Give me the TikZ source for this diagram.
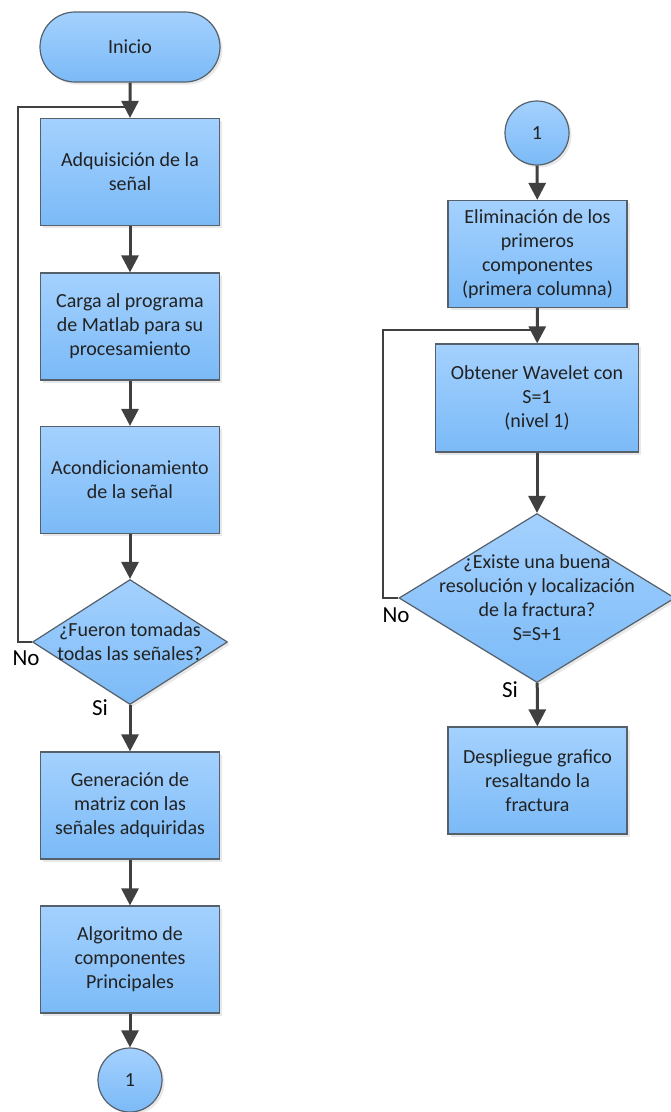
\documentclass[tikz,border=0pt]{standalone}
\usepackage{fontspec}
\setmainfont{Carlito}
\usetikzlibrary{arrows.meta,shapes.geometric,shapes.misc,shadows}
\definecolor{boxtop}{HTML}{A4D1FE}
\definecolor{boxbot}{HTML}{7BBAF7}
\definecolor{edge}{HTML}{55606B}
\definecolor{flow}{HTML}{404040}
\definecolor{txt}{HTML}{222222}
\begin{document}
\begin{tikzpicture}[x=1pt,y=-1pt,
  fillbox/.style={top color=boxtop, bottom color=boxbot, draw=edge, line width=1.2pt,
    drop shadow={shadow xshift=2.5pt, shadow yshift=-2.5pt, opacity=0.18}},
  bodytext/.style={align=center, text=txt, font=\fontsize{20}{24}\selectfont},
  proc/.style={fillbox, bodytext, rectangle, minimum width=179pt, minimum height=107pt, inner sep=0pt},
  term/.style={fillbox, bodytext, rounded rectangle, minimum width=180pt, minimum height=70pt, inner sep=0pt},
  conn/.style={fillbox, bodytext, circle, minimum size=64pt, inner sep=0pt},
  dec/.style={fillbox, diamond, inner sep=0pt},
  flowline/.style={draw=flow, line width=3pt, -{Triangle[length=17pt,width=17pt]}},
  loopline/.style={draw=flow, line width=2pt},
  tag/.style={font=\fontsize{23}{26}\selectfont, text=black}
]
\useasboundingbox (0,0) rectangle (670,1112);

% left column
\node[term] (ini) at (130,47) {Inicio};
\node[proc] (b1) at (130,172) {Adquisición de la\\señal};
\node[proc] (b2) at (130,326.5) {Carga al programa\\de Matlab para su\\procesamiento};
\node[proc] (b3) at (130,480) {Acondicionamiento\\de la señal};
\node[dec, minimum width=195pt, minimum height=125pt] (d1) at (130,642) {};
\node[bodytext] (d1t) at (d1) {¿Fueron tomadas\\todas las señales?};
\node[proc] (b4) at (130,805.5) {Generación de\\matriz con las\\señales adquiridas};
\node[proc] (b5) at (130,959.5) {Algoritmo de\\componentes\\Principales};
\node[conn] (c1) at (130,1080) {1};

\coordinate (la) at (18,107);
\coordinate (ja) at (130,107);

\draw[flowline] (ini) -- (b1);
\draw[flowline] (b1) -- (b2);
\draw[flowline] (b2) -- (b3);
\draw[flowline] (b3) -- (d1);
\draw[flowline] (d1) -- (b4);
\draw[flowline] (b4) -- (b5);
\draw[flowline] (b5) -- (c1);
\draw[loopline] (d1.west) -- (d1.west -| la) -- (la) -- (ja);

\node[tag] (no1) at (26,658) {No};
\node[tag] (si1) at (100,708) {Si};

% right column
\node[conn] (c2) at (537,133) {1};
\node[proc] (r1) at (537.5,254) {Eliminación de los\\primeros\\componentes\\(primera columna)};
\node[proc, minimum width=203pt, minimum height=108pt] (r2) at (537,398) {Obtener Wavelet con\\S=1\\(nivel 1)};
\node[dec, minimum width=276pt, minimum height=169pt] (d2) at (537,598) {};
\node[bodytext] (d2t) at (d2) {¿Existe una buena\\resolución y localización\\de la fractura?\\S=S+1};
\node[proc] (r3) at (537.5,780.5) {Despliegue grafico\\resaltando la\\fractura};

\coordinate (lb) at (383,330);
\coordinate (jb) at (537,330);

\draw[flowline] (c2) -- (r1);
\draw[flowline] (r1) -- (r2);
\draw[flowline] (r2) -- (d2);
\draw[flowline] (d2) -- (r3);
\draw[loopline] (d2.west) -- (d2.west -| lb) -- (lb) -- (jb);

\node[tag] (no2) at (396,615) {No};
\node[tag] (si2) at (510,690) {Si};
\end{tikzpicture}
\end{document}
